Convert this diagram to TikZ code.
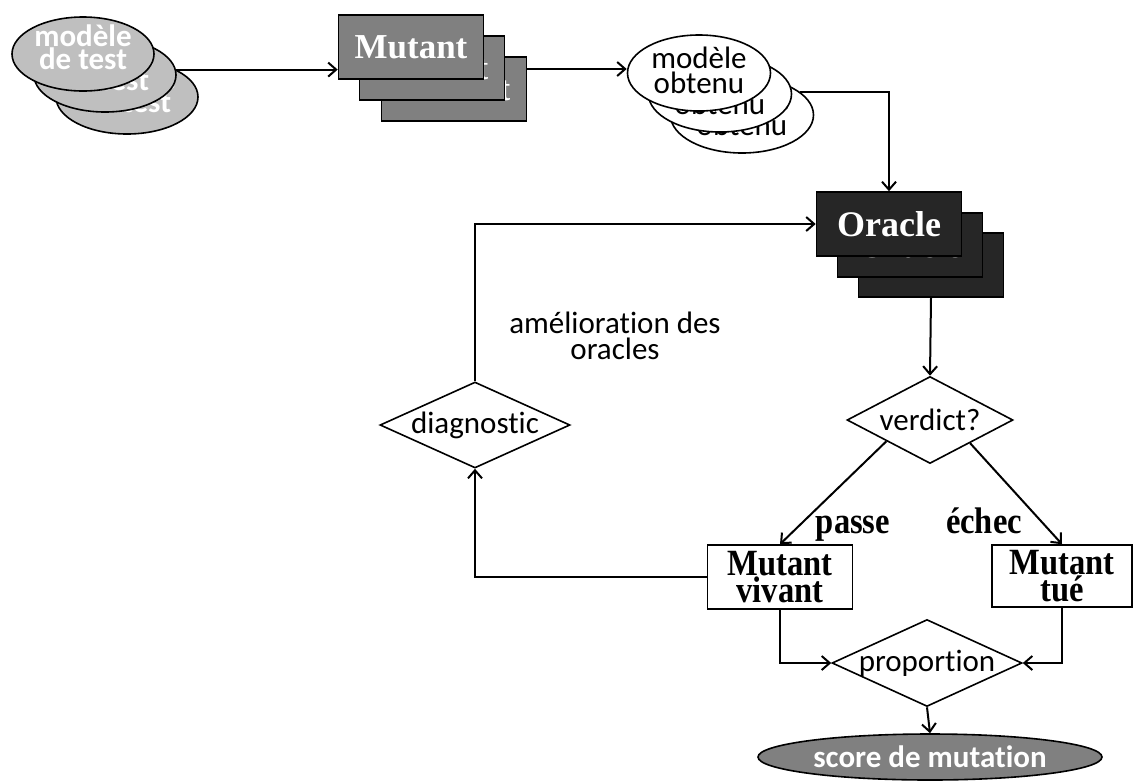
\documentclass[tikz,border=0pt]{standalone}
\usepackage{fontspec}
\setmainfont[Ligatures={NoCommon}]{Carlito}
\newfontfamily\tnr{Liberation Serif}
\newfontfamily\tnrc[FakeStretch=0.88]{Liberation Serif}
\usetikzlibrary{shapes.geometric,arrows.meta}
\definecolor{lgray}{RGB}{191,191,191}
\definecolor{mgray}{RGB}{128,128,128}
\definecolor{dgray}{RGB}{38,38,38}
\begin{document}
\begin{tikzpicture}[x=1pt,y=-1pt,
  arr/.style={line width=2pt,-{Straight Barb[length=8pt,width=14pt]}},
  ellL/.style={ellipse,draw,line width=1.6pt,fill=lgray,minimum width=142pt,minimum height=74pt,inner sep=0pt},
  txtL/.style={text=white,font=\bfseries\fontsize{31}{23}\selectfont,align=center,inner sep=0pt},
  ellO/.style={ellipse,draw,line width=1.6pt,fill=white,minimum width=143pt,minimum height=76pt,inner sep=0pt},
  txtO/.style={font=\fontsize{31}{25}\selectfont,align=center,inner sep=0pt},
  mutbox/.style={rectangle,draw,line width=1.6pt,fill=mgray,minimum width=145pt,minimum height=64pt,inner sep=0pt,text=white,font=\tnr\bfseries\fontsize{35}{35}\selectfont},
  orbox/.style={rectangle,draw,line width=1.6pt,fill=dgray,minimum width=145pt,minimum height=64pt,inner sep=0pt,text=white,font=\tnr\bfseries\fontsize{36}{36}\selectfont},
  dia/.style={diamond,draw,line width=1.6pt,fill=white,inner sep=0pt},
  diatxt/.style={font=\fontsize{31}{31}\selectfont},
  resbox/.style={rectangle,draw,line width=1.6pt,fill=white,minimum width=145pt,minimum height=64pt,inner sep=0pt,align=center,font=\tnrc\bfseries\fontsize{37}{24}\selectfont},
  lbl/.style={font=\tnrc\bfseries\fontsize{37}{37}\selectfont,inner sep=0pt},
  scoreell/.style={ellipse,draw,line width=1.6pt,fill=mgray,minimum width=344pt,minimum height=46pt,inner sep=0pt,text=white,font=\bfseries\fontsize{31}{31}\selectfont}
]
\useasboundingbox (0,0) rectangle (1133,780);

% modele de test stack
\node[ellL] (e3) at (127,97) {};
\node[txtL,yshift=7pt] (e3t) at (e3) {modèle\\de test};
\node[ellL] (e2) at (105,75) {};
\node[txtL,yshift=7pt] (e2t) at (e2) {modèle\\de test};
\node[ellL] (e1) at (83,54) {};
\node[txtL,yshift=7pt] (e1t) at (e1) {modèle\\de test};

% Mutant stack
\node[mutbox] (m3) at (454,89) {Mutant};
\node[mutbox] (m2) at (432,68) {Mutant};
\node[mutbox] (m1) at (411,47) {Mutant};

% modele obtenu stack
\node[ellO] (o3) at (742,115) {};
\node[txtO,yshift=3pt] (o3t) at (o3) {modèle\\obtenu};
\node[ellO] (o2) at (720,94) {};
\node[txtO,yshift=3pt] (o2t) at (o2) {modèle\\obtenu};
\node[ellO] (o1) at (699,73) {};
\node[txtO,yshift=3pt] (o1t) at (o1) {modèle\\obtenu};

% Oracle stack
\node[orbox] (r3) at (931,265) {Oracle};
\node[orbox] (r2) at (910,245) {Oracle};
\node[orbox] (r1) at (889,224) {Oracle};

% decisions
\node[dia,minimum width=190pt,minimum height=86pt,label={[diatxt,name=dt]center:diagnostic}] (d) at (475,425) {};
\node[dia,minimum width=166pt,minimum height=87pt,label={[diatxt,name=vt]center:verdict?}] (v) at (930,420) {};
\node[dia,minimum width=190pt,minimum height=87pt,label={[diatxt,name=pt]center:proportion}] (p) at (927,663) {};

% results
\node[resbox] (vv) at (780,577) {Mutant\\vivant};
\node[resbox,minimum width=140pt,minimum height=62pt] (tk) at (1062,576) {Mutant\\tué};

\node[scoreell] (s) at (930,757) {score de mutation};

% labels
\node[font=\fontsize{31}{26}\selectfont,align=center,inner sep=0pt] (am) at (615,336) {amélioration des\\oracles};
\node[lbl,anchor=base] (lp) at (853,533) {passe};
\node[lbl,anchor=base] (le) at (984,533) {échec};

% connectors
\draw[arr] (e3.29) -- (e3.29 -| m1.west);
\draw[arr] ([yshift=20pt]m3.east) -- ([yshift=20pt]m3.east -| o1.west);
\draw[arr] (o3.22) -| (r1.north);
\draw[arr] (d.north) |- (r1.west);
\draw[arr] (r3.south) -- (v.north);
\draw[arr] (v.206.6) -- (vv.north);
\draw[arr] (v.330) -- (tk.north);
\draw[arr] (vv.west) -| (d.south);
\draw[arr] (vv.south) |- (p.west);
\draw[arr] (tk.south) |- (p.east);
\draw[arr] (p.south) -- (s.north);
\end{tikzpicture}
\end{document}
